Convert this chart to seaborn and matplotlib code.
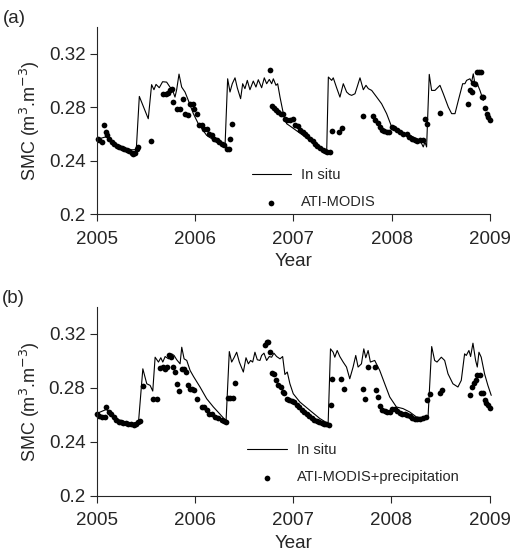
import numpy as np
import pandas as pd
import matplotlib
matplotlib.use('Agg')
import matplotlib.pyplot as plt
import seaborn as sns

# panel (a): in situ line and ATI-MODIS estimates
insitu_a_year = [2005.00, 2005.10, 2005.20, 2005.30, 2005.40, 2005.431, 2005.522, 2005.556, 2005.580, 2005.601,
                 2005.634, 2005.668, 2005.709, 2005.743, 2005.770, 2005.794, 2005.811, 2005.835, 2005.862, 2005.896,
                 2005.930, 2005.981, 2006.031, 2006.116, 2006.218, 2006.303, 2006.330, 2006.354, 2006.377, 2006.405,
                 2006.428, 2006.462, 2006.483, 2006.506, 2006.530, 2006.557, 2006.591, 2006.618, 2006.642, 2006.676,
                 2006.703, 2006.727, 2006.754, 2006.778, 2006.795, 2006.822, 2006.839, 2006.863, 2006.897, 2006.930,
                 2006.964, 2007.134, 2007.270, 2007.338, 2007.355, 2007.389, 2007.405, 2007.439, 2007.473, 2007.507,
                 2007.541, 2007.568, 2007.592, 2007.626, 2007.650, 2007.677, 2007.711, 2007.738, 2007.762, 2007.796,
                 2007.847, 2007.897, 2007.948, 2008.000, 2008.084, 2008.186, 2008.288, 2008.321, 2008.338, 2008.355,
                 2008.382, 2008.406, 2008.440, 2008.491, 2008.525, 2008.576, 2008.610, 2008.644, 2008.678, 2008.722,
                 2008.745, 2008.762, 2008.796, 2008.813, 2008.830, 2008.847, 2008.864, 2008.898, 2008.932]
insitu_a_smc = [0.256, 0.258, 0.251, 0.248, 0.2483, 0.2881, 0.2714, 0.2969, 0.2931, 0.2971,
                0.2946, 0.2991, 0.2988, 0.2951, 0.2926, 0.2876, 0.2931, 0.3048, 0.2951, 0.2914,
                0.2851, 0.2752, 0.2677, 0.2590, 0.2540, 0.2503, 0.3013, 0.2914, 0.2976, 0.3020,
                0.2946, 0.2864, 0.2976, 0.2939, 0.3001, 0.2931, 0.2996, 0.2951, 0.3006, 0.2946,
                0.3020, 0.2976, 0.3008, 0.2976, 0.3013, 0.2964, 0.2976, 0.2876, 0.2752, 0.2677,
                0.2660, 0.2570, 0.2490, 0.2466, 0.3026, 0.3001, 0.3020, 0.2946, 0.2876, 0.2976,
                0.2914, 0.2896, 0.2889, 0.2901, 0.2956, 0.3020, 0.2931, 0.2964, 0.2939, 0.2926,
                0.2876, 0.2826, 0.2752, 0.2652, 0.2602, 0.2590, 0.2553, 0.2503, 0.2540, 0.2503,
                0.3046, 0.2926, 0.2926, 0.2964, 0.2901, 0.2801, 0.2752, 0.2752, 0.2851, 0.2976,
                0.2976, 0.3001, 0.3013, 0.2988, 0.3050, 0.2976, 0.2988, 0.2926, 0.2851]

modis_a_year = [2005.007, 2005.024, 2005.047, 2005.071, 2005.092, 2005.105, 2005.126, 2005.149, 2005.173, 2005.200,
                2005.227, 2005.251, 2005.275, 2005.302, 2005.329, 2005.353, 2005.370, 2005.387, 2005.404, 2005.421,
                2005.550, 2005.675, 2005.699, 2005.726, 2005.743, 2005.760, 2005.777, 2005.811, 2005.845, 2005.872,
                2005.896, 2005.923, 2005.947, 2005.974, 2005.987, 2006.014, 2006.042, 2006.065, 2006.089, 2006.116,
                2006.143, 2006.167, 2006.194, 2006.218, 2006.242, 2006.269, 2006.293, 2006.320, 2006.340, 2006.354,
                2006.377, 2006.761, 2006.778, 2006.801, 2006.822, 2006.846, 2006.869, 2006.897, 2006.914, 2006.937,
                2006.964, 2006.992, 2007.015, 2007.042, 2007.066, 2007.093, 2007.117, 2007.141, 2007.168, 2007.195,
                2007.219, 2007.243, 2007.270, 2007.297, 2007.321, 2007.344, 2007.372, 2007.389, 2007.467, 2007.490,
                2007.711, 2007.806, 2007.830, 2007.863, 2007.880, 2007.897, 2007.921, 2007.948, 2007.975, 2008.000,
                2008.023, 2008.050, 2008.084, 2008.118, 2008.152, 2008.179, 2008.210, 2008.237, 2008.260, 2008.288,
                2008.315, 2008.338, 2008.362, 2008.491, 2008.779, 2008.796, 2008.813, 2008.824, 2008.847, 2008.864,
                2008.888, 2008.905, 2008.915, 2008.932, 2008.949, 2008.966, 2008.983, 2009.000]
modis_a_smc = [0.2565, 0.2558, 0.2540, 0.2665, 0.2615, 0.2590, 0.2565, 0.2540, 0.2523, 0.2508,
               0.2503, 0.2495, 0.2488, 0.2483, 0.2473, 0.2461, 0.2453, 0.2461, 0.2490, 0.2503,
               0.2545, 0.2901, 0.2901, 0.2906, 0.2926, 0.2939, 0.2839, 0.2789, 0.2789, 0.2864,
               0.2752, 0.2739, 0.2826, 0.2826, 0.2789, 0.2752, 0.2665, 0.2665, 0.2640, 0.2640,
               0.2602, 0.2590, 0.2565, 0.2553, 0.2540, 0.2528, 0.2515, 0.2490, 0.2490, 0.2565,
               0.2677, 0.3080, 0.2806, 0.2797, 0.2777, 0.2764, 0.2752, 0.2752, 0.2714, 0.2707,
               0.2707, 0.2714, 0.2665, 0.2657, 0.2627, 0.2615, 0.2597, 0.2582, 0.2565, 0.2548,
               0.2528, 0.2510, 0.2498, 0.2483, 0.2473, 0.2466, 0.2466, 0.2622, 0.2615, 0.2647,
               0.2732, 0.2732, 0.2707, 0.2682, 0.2652, 0.2627, 0.2620, 0.2615, 0.2615, 0.2652,
               0.2647, 0.2627, 0.2615, 0.2602, 0.2597, 0.2577, 0.2565, 0.2553, 0.2548, 0.2553,
               0.2558, 0.2714, 0.2677, 0.2757, 0.2821, 0.2931, 0.2914, 0.2981, 0.2976, 0.3063,
               0.3063, 0.3063, 0.2876, 0.2876, 0.2797, 0.2752, 0.2727, 0.2702]

# panel (b): in situ line and ATI-MODIS+precipitation estimates
insitu_b_year = [2005.00, 2005.10, 2005.20, 2005.35, 2005.427, 2005.471, 2005.511, 2005.545, 2005.572, 2005.596,
                 2005.630, 2005.654, 2005.674, 2005.698, 2005.732, 2005.765, 2005.789, 2005.816, 2005.850, 2005.867,
                 2005.891, 2005.918, 2005.952, 2005.986, 2006.053, 2006.121, 2006.189, 2006.257, 2006.318, 2006.351,
                 2006.375, 2006.399, 2006.426, 2006.453, 2006.494, 2006.521, 2006.545, 2006.568, 2006.589, 2006.612,
                 2006.636, 2006.663, 2006.680, 2006.704, 2006.731, 2006.758, 2006.782, 2006.805, 2006.833, 2006.867,
                 2006.894, 2006.917, 2006.941, 2006.968, 2007.002, 2007.069, 2007.171, 2007.273, 2007.357, 2007.381,
                 2007.408, 2007.425, 2007.449, 2007.476, 2007.510, 2007.544, 2007.577, 2007.611, 2007.638, 2007.662,
                 2007.696, 2007.720, 2007.740, 2007.764, 2007.787, 2007.831, 2007.882, 2007.933, 2007.984, 2008.052,
                 2008.119, 2008.187, 2008.255, 2008.306, 2008.373, 2008.411, 2008.441, 2008.465, 2008.509, 2008.543,
                 2008.577, 2008.627, 2008.678, 2008.712, 2008.746, 2008.763, 2008.790, 2008.807, 2008.831, 2008.858,
                 2008.875, 2008.892, 2008.915, 2008.949, 2008.983, 2009.017]
insitu_b_smc = [0.2609, 0.2640, 0.2569, 0.2535, 0.2547, 0.2941, 0.2830, 0.2818, 0.2776, 0.3027,
                0.2991, 0.3023, 0.2991, 0.3032, 0.3015, 0.3052, 0.3040, 0.3008, 0.2978, 0.3101,
                0.3015, 0.3003, 0.2929, 0.2885, 0.2806, 0.2719, 0.2658, 0.2604, 0.2554, 0.3069,
                0.2991, 0.3023, 0.3064, 0.2991, 0.2917, 0.3023, 0.2978, 0.3003, 0.2991, 0.3064,
                0.3008, 0.3003, 0.3040, 0.3057, 0.3003, 0.3032, 0.3027, 0.3057, 0.3032, 0.3015,
                0.3032, 0.2899, 0.2917, 0.2830, 0.2756, 0.2695, 0.2633, 0.2572, 0.2535, 0.3089,
                0.3064, 0.3027, 0.3077, 0.3032, 0.2991, 0.2954, 0.2867, 0.2954, 0.3040, 0.2954,
                0.2978, 0.3089, 0.3023, 0.3077, 0.2991, 0.3003, 0.2929, 0.2830, 0.2732, 0.2658,
                0.2646, 0.2621, 0.2584, 0.2579, 0.2572, 0.3106, 0.3003, 0.2991, 0.3027, 0.3003,
                0.2904, 0.2830, 0.2806, 0.2855, 0.3052, 0.3040, 0.3077, 0.3032, 0.3131, 0.3003,
                0.2954, 0.3064, 0.3027, 0.2904, 0.2818, 0.2744]

modis_b_year = [2005.003, 2005.027, 2005.054, 2005.081, 2005.098, 2005.122, 2005.146, 2005.173, 2005.200, 2005.224,
                2005.247, 2005.274, 2005.301, 2005.325, 2005.352, 2005.376, 2005.400, 2005.420, 2005.444, 2005.471,
                2005.572, 2005.613, 2005.647, 2005.674, 2005.698, 2005.721, 2005.742, 2005.759, 2005.776, 2005.799,
                2005.816, 2005.840, 2005.867, 2005.891, 2005.911, 2005.928, 2005.952, 2005.975, 2005.992, 2006.019,
                2006.070, 2006.094, 2006.121, 2006.148, 2006.179, 2006.206, 2006.240, 2006.273, 2006.297, 2006.318,
                2006.334, 2006.358, 2006.385, 2006.409, 2006.714, 2006.731, 2006.748, 2006.765, 2006.782, 2006.805,
                2006.826, 2006.850, 2006.874, 2006.894, 2006.911, 2006.934, 2006.961, 2006.985, 2007.008, 2007.036,
                2007.063, 2007.086, 2007.110, 2007.137, 2007.164, 2007.188, 2007.215, 2007.239, 2007.266, 2007.290,
                2007.313, 2007.340, 2007.367, 2007.384, 2007.401, 2007.493, 2007.517, 2007.713, 2007.737, 2007.764,
                2007.831, 2007.848, 2007.865, 2007.882, 2007.909, 2007.933, 2007.957, 2007.984, 2008.011, 2008.035,
                2008.058, 2008.086, 2008.113, 2008.136, 2008.160, 2008.187, 2008.214, 2008.238, 2008.265, 2008.296,
                2008.323, 2008.350, 2008.367, 2008.390, 2008.492, 2008.519, 2008.797, 2008.824, 2008.837, 2008.858,
                2008.875, 2008.898, 2008.909, 2008.932, 2008.949, 2008.966, 2008.983, 2009.000]
modis_b_smc = [0.2609, 0.2591, 0.2584, 0.2584, 0.2658, 0.2621, 0.2604, 0.2584, 0.2564, 0.2547,
               0.2547, 0.2542, 0.2542, 0.2535, 0.2530, 0.2522, 0.2535, 0.2547, 0.2554, 0.2811,
               0.2719, 0.2719, 0.2949, 0.2954, 0.2941, 0.2954, 0.3040, 0.3032, 0.2954, 0.2917,
               0.2830, 0.2776, 0.2941, 0.2941, 0.2917, 0.2818, 0.2793, 0.2793, 0.2781, 0.2719,
               0.2658, 0.2658, 0.2633, 0.2609, 0.2604, 0.2584, 0.2577, 0.2564, 0.2552, 0.2547,
               0.2724, 0.2724, 0.2724, 0.2835, 0.3114, 0.3138, 0.3143, 0.3069, 0.2909, 0.2904,
               0.2855, 0.2818, 0.2806, 0.2769, 0.2761, 0.2719, 0.2707, 0.2702, 0.2695, 0.2675,
               0.2658, 0.2638, 0.2621, 0.2609, 0.2589, 0.2577, 0.2564, 0.2554, 0.2547, 0.2540,
               0.2530, 0.2530, 0.2522, 0.2670, 0.2862, 0.2862, 0.2793, 0.2793, 0.2719, 0.2954,
               0.2954, 0.2781, 0.2732, 0.2663, 0.2633, 0.2626, 0.2621, 0.2621, 0.2646, 0.2646,
               0.2628, 0.2616, 0.2609, 0.2604, 0.2596, 0.2591, 0.2579, 0.2569, 0.2567, 0.2567,
               0.2579, 0.2584, 0.2707, 0.2756, 0.2761, 0.2781, 0.2744, 0.2806, 0.2835, 0.2860,
               0.2892, 0.2892, 0.2761, 0.2761, 0.2712, 0.2687, 0.2675, 0.2653]

year_ticks = [2005, 2006, 2007, 2008, 2009]
smc_ticks = [0.2, 0.24, 0.28, 0.32]
smc_labels = ['0.2', '0.24', '0.28', '0.32']

sns.set_style('ticks')
plt.rcParams['font.family'] = ['Liberation Sans', 'DejaVu Sans']

fig = plt.figure(figsize = (5.15, 5.52), dpi = 100)
ax_a = fig.add_axes([0.1883, 0.612, 0.7631, 0.339])
ax_b = fig.add_axes([0.1875, 0.102, 0.7631, 0.342])

# axes, line data, dot data, dot label, panel tag, legend anchor
panels = [(ax_a, insitu_a_year, insitu_a_smc, modis_a_year, modis_a_smc, 'ATI-MODIS', '(a)', (0.36, -0.045)),
          (ax_b, insitu_b_year, insitu_b_smc, modis_b_year, modis_b_smc, 'ATI-MODIS+precipitation', '(b)', (0.35, -0.01))]

for ax, ly, lv, dy, dv, dlab, tag, anchor in panels:
    sns.lineplot(x = ly, y = lv, ax = ax, color = 'black', linewidth = 0.8, label = 'In situ', clip_on = False)
    sns.scatterplot(x = dy, y = dv, ax = ax, color = 'black', s = 17, linewidth = 0, label = dlab, clip_on = False)
    ax.set_xlim(2005, 2009)
    ax.set_ylim(0.2, 0.34)
    ax.set_xticks(year_ticks)
    ax.set_xticklabels([str(y) for y in year_ticks])
    ax.set_yticks(smc_ticks)
    ax.set_yticklabels(smc_labels)
    ax.tick_params(labelsize = 13.5, length = 5, width = 0.8)
    ax.tick_params(axis = 'x', pad = 7)
    ax.tick_params(axis = 'y', pad = 3)
    for s in ['left', 'bottom']:
        ax.spines[s].set_linewidth(0.8)
    sns.despine(ax = ax)
    ax.set_xlabel('Year', fontsize = 13.5, labelpad = 4)
    ax.set_ylabel('SMC (m$^3$.m$^{-3}$)', fontsize = 13, labelpad = 5)
    ax.legend(loc = 'lower left', bbox_to_anchor = anchor, frameon = False, fontsize = 10.5,
              handlelength = 2.7, handletextpad = 0.7, labelspacing = 0.95)
    ax.text(-0.24, 1.0, tag, transform = ax.transAxes, fontsize = 13.5, va = 'bottom', ha = 'left')

plt.savefig('out.png', dpi = 100)
plt.close()
